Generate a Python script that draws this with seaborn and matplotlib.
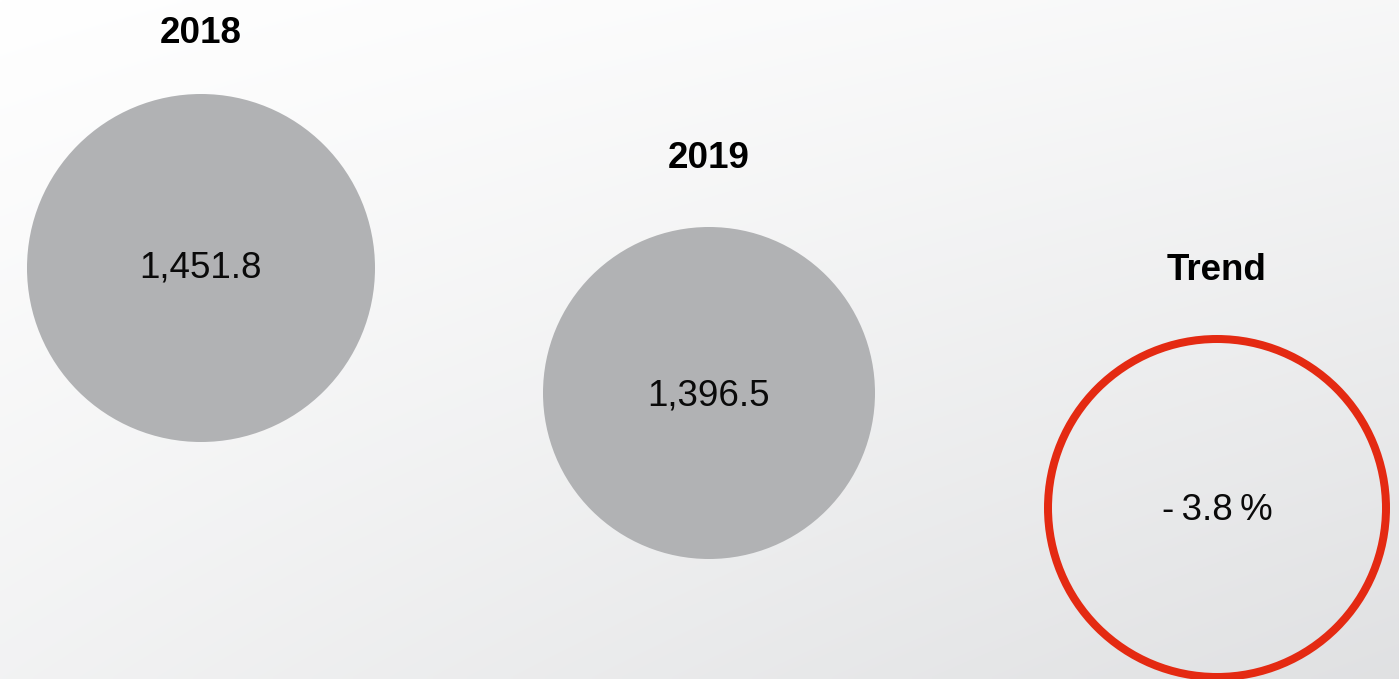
import numpy as np
import pandas as pd
import matplotlib
matplotlib.use("Agg")
import matplotlib.pyplot as plt
import seaborn as sns

# ---- data ----
labels = ["2018", "2019", "Trend"]
values = [1451.8, 1396.5, -3.8]
value_texts = ["1,451.8", "1,396.5", "-\u20093.8\u2009%"]

# ---- layout (pixels in a 1399x679 canvas) ----
W, H = 1399, 679
cx = [201, 709, 1217]
cy = [268, 393, 508]
radius = [174, 166, 169]
title_y = [43, 168, 280]
value_y = [277, 405, 520]

sns.set_theme(style="white")
plt.rcParams['font.family'] = ['Liberation Sans', 'DejaVu Sans']

dpi = 100
fig = plt.figure(figsize=(W / dpi, H / dpi), dpi=dpi)
ax = fig.add_axes([0, 0, 1, 1])
ax.set_xlim(0, W)
ax.set_ylim(H, 0)
ax.set_axis_off()

# background gradient
gx = np.linspace(0, 1, 300)
gy = np.linspace(0, 1, 150)
X, Y = np.meshgrid(gx, gy)
d = 8 * X + 13 * Y + 10 * X * Y
img = np.stack([255 - d, 255 - d * 0.97, 255 - d * 0.92], axis=-1) / 255.0
ax.imshow(img, extent=[0, W, H, 0], aspect="auto", zorder=0, interpolation="bilinear")

px2pt = 72.0 / dpi

df = pd.DataFrame({"label": labels, "value": values, "x": cx, "y": cy})

# filled grey circles (2018, 2019)
for i in range(2):
    s = (2 * radius[i] * px2pt) ** 2
    sns.scatterplot(x=[cx[i]], y=[cy[i]], ax=ax, s=s, color="#B1B2B4",
                    edgecolor="none", linewidth=0, zorder=2, legend=False)

# red outlined circle (trend)
lw_px = 8
s = (2 * radius[2] * px2pt) ** 2
sns.scatterplot(x=[cx[2]], y=[cy[2]], ax=ax, s=s, facecolor="none",
                edgecolor="#E42A12", linewidth=lw_px * px2pt, zorder=2, legend=False)
ax.set_xlim(0, W)
ax.set_ylim(H, 0)

for i in range(3):
    ax.text(cx[i], title_y[i], labels[i], ha="center", va="baseline",
            fontsize=26.5, fontweight="bold", color="#000000", zorder=3)
    ax.text(cx[i], value_y[i], value_texts[i], ha="center", va="baseline",
            fontsize=26.5, color="#0a0a0a", zorder=3)

fig.savefig("out.png", dpi=dpi)
